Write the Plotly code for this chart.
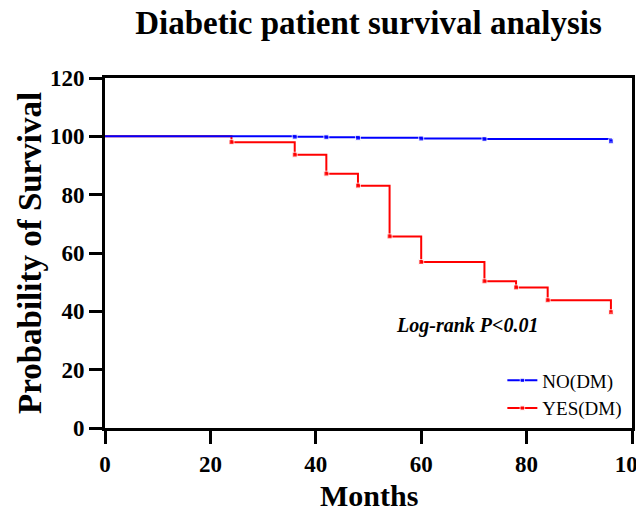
import plotly.graph_objects as go

# Data (Kaplan-Meier survival, %)
no_dm_months = [0, 36, 42, 48, 60, 72, 96]
no_dm_surv = [100, 99.85, 99.7, 99.5, 99.25, 99.05, 98.3]

yes_dm_months = [0, 24, 36, 42, 48, 54, 60, 72, 78, 84, 96]
yes_dm_surv = [100, 98.0, 93.7, 87.2, 83.1, 65.7, 56.9, 50.3, 48.2, 43.8, 39.7]

x_ticks = [0, 20, 40, 60, 80, 100]
y_ticks = [0, 20, 40, 60, 80, 100, 120]

SERIF = "Times New Roman, Liberation Serif, serif"

fig = go.Figure()

fig.add_trace(go.Scatter(
    x=yes_dm_months, y=yes_dm_surv, name="YES(DM)",
    mode="lines+markers", line=dict(color="#FF0000", width=2, shape="hv"),
    marker=dict(symbol="square", size=[0] + [5] * (len(yes_dm_months) - 1), color="#FF0000"),
    legendrank=2,
))
fig.add_trace(go.Scatter(
    x=no_dm_months, y=no_dm_surv, name="NO(DM)",
    mode="lines+markers", line=dict(color="#0000FF", width=2, shape="hv"),
    marker=dict(symbol="square", size=[0] + [5] * (len(no_dm_months) - 1), color="#0000FF"),
    legendrank=1,
))

axis_common = dict(
    showgrid=False, zeroline=False, showline=True, linecolor="black", linewidth=3,
    mirror=True, ticks="outside", ticklen=13, tickwidth=3, tickcolor="black",
    tickfont=dict(family=SERIF, size=23, color="black", weight="bold"),
)

fig.update_xaxes(range=[0, 100], tickvals=x_ticks, **axis_common)
fig.update_yaxes(range=[0, 120], tickvals=y_ticks, **axis_common)

fig.update_layout(
    width=644, height=507,
    margin=dict(l=97, r=20, t=70, b=87, autoexpand=False),
    paper_bgcolor="white", plot_bgcolor="white",
    title=dict(text="<b>Diabetic patient survival analysis</b>",
               font=dict(family=SERIF, size=33, color="black"),
               x=(97 + 624) / 2 / 644, xanchor="center",
               yref="container", y=1 - 14 / 507, yanchor="middle"),
    legend=dict(x=0.754, y=0.19, xanchor="left", yanchor="top",
                font=dict(family=SERIF, size=19, color="black"),
                bgcolor="rgba(0,0,0,0)", tracegroupgap=0),
    showlegend=True,
    annotations=[
        dict(text="<b><i>Log-rank P&lt;0.01</i></b>", x=68.75, y=35.3, xref="x", yref="y",
             showarrow=False, font=dict(family=SERIF, size=20, color="black")),
        dict(text="<b>Months</b>", x=0.5, y=0, xref="paper", yref="paper",
             yanchor="bottom", yshift=-86, showarrow=False,
             font=dict(family=SERIF, size=30, color="black")),
        dict(text="<b>Probability of Survival</b>", x=0, y=0.5, xref="paper", yref="paper",
             xanchor="center", xshift=-75, textangle=-90, showarrow=False,
             font=dict(family=SERIF, size=33, color="black")),
    ],
)

fig.write_html("out.html")
